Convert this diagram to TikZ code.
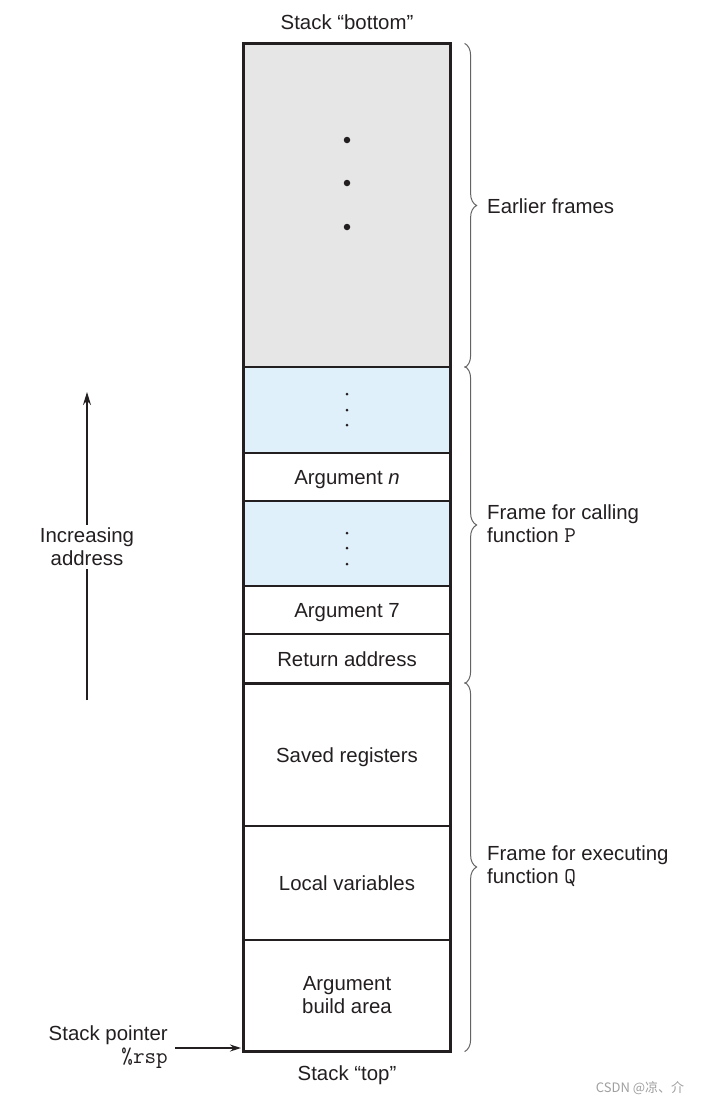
\documentclass[tikz,border=0pt]{standalone}
\usepackage{fontspec}
\setmainfont{Liberation Sans}
\newfontfamily\cjk{Noto Sans CJK SC}
\usetikzlibrary{arrows.meta,decorations.pathreplacing}
\definecolor{ink}{HTML}{231F20}
\definecolor{oldgray}{HTML}{E6E6E6}
\definecolor{argblue}{HTML}{DFF0FA}
\newcommand{\regname}[1]{{\fontsize{22.5}{23}\selectfont\ttfamily #1}}
\newcommand{\celltext}[1]{\raisebox{-7.5pt}[0pt][0pt]{#1}}
\tikzset{
    cell/.style={draw=ink, line width=1.2pt, minimum width=206pt, inner sep=0pt, align=center, text=ink, font=\fontsize{20.4}{23}\selectfont},
    lbl/.style={inner sep=0pt, text=ink, font=\fontsize{20.4}{23}\selectfont},
    brc/.style={draw=ink!70, line width=1pt, decorate, decoration={brace, amplitude=12pt}},
    bigdot/.style={circle, fill=ink, inner sep=0pt, minimum size=6.5pt},
    smalldot/.style={circle, fill=ink, inner sep=0pt, minimum size=3pt}
}

\begin{document}
\begin{tikzpicture}[x=1pt,y=-1pt]
    \useasboundingbox (0,0) rectangle (705,1106);
    \node[cell, fill=oldgray, minimum height=323pt] at (347,205.5) (earlier) {};
    \node[cell, fill=argblue, minimum height=86pt] at (347,410) (blue1) {};
    \node[cell, minimum height=48pt] at (347,477) (argn) {\celltext{Argument \textit{n}}};
    \node[cell, fill=argblue, minimum height=85pt] at (347,543.5) (blue2) {};
    \node[cell, minimum height=48pt] at (347,610) (arg7) {\celltext{Argument 7}};
    \node[cell, minimum height=49pt] at (347,658.5) (ret) {\celltext{Return address}};
    \node[cell, minimum height=143pt] at (347,754.5) (saved) {\celltext{Saved registers}};
    \node[cell, minimum height=114pt] at (347,883) (local) {\celltext{Local variables}};
    \node[cell, minimum height=111pt] at (347,995.5) (build) {Argument\\build area};
    \draw[ink, line width=3pt] (earlier.north west) rectangle (build.south east);
    \draw[ink, line width=2.4pt] (ret.south west) -- (ret.south east);

    \node[bigdot] at (347,140) (d1) {};
    \node[bigdot] at (347,183) (d2) {};
    \node[bigdot] at (347,227) (d3) {};
    \node[smalldot] at (347,394) (e1) {};
    \node[smalldot] at (347,410) (e2) {};
    \node[smalldot] at (347,425) (e3) {};
    \node[smalldot] at (347,533) (f1) {};
    \node[smalldot] at (347,548) (f2) {};
    \node[smalldot] at (347,564) (f3) {};

    \node[lbl] at (347,22) (sbottom) {Stack “bottom”};
    \node[lbl] at (347,1075) (stop) {Stack “top”};

    \draw[brc] ([xshift=14pt]earlier.north east) -- ([xshift=14pt]earlier.south east);
    \draw[brc] ([xshift=14pt]blue1.north east) -- ([xshift=14pt]ret.south east);
    \draw[brc] ([xshift=14pt]saved.north east) -- ([xshift=14pt]build.south east);
    \node[lbl, anchor=west, align=left] at (487,206) (earlyl) {Earlier frames};
    \node[lbl, anchor=west, align=left] at (487,524) (calll) {Frame for calling\\function \regname{P}};
    \node[lbl, anchor=west, align=left] at (487,866) (execl) {Frame for executing\\function \regname{Q}};

    \coordinate (incfoot) at (87,700);
    \coordinate (inchead) at (87,392);
    \node[lbl, align=center, inner sep=3pt] at (87,547) (incr) {Increasing\\address};
    \draw[ink, line width=1.4pt] (incfoot) -- (incr.south);
    \draw[ink, line width=1.4pt, -{Stealth[length=13pt,width=8pt]}] (incr.north) -- (inchead);

    \node[lbl, anchor=east, align=right] at (168,1047) (sp) {Stack pointer\\\regname{\%rsp}};
    \coordinate (sptail) at (175,1048);
    \coordinate (sptip) at (241,1048);
    \draw[ink, line width=1.2pt, -{Stealth[length=11pt,width=7pt]}] (sptail) -- (sptip);

    \node[text=gray!75, font=\cjk\fontsize{13}{15}\selectfont] at (640,1088) (mark) {CSDN @凉、介};
\end{tikzpicture}
\end{document}
